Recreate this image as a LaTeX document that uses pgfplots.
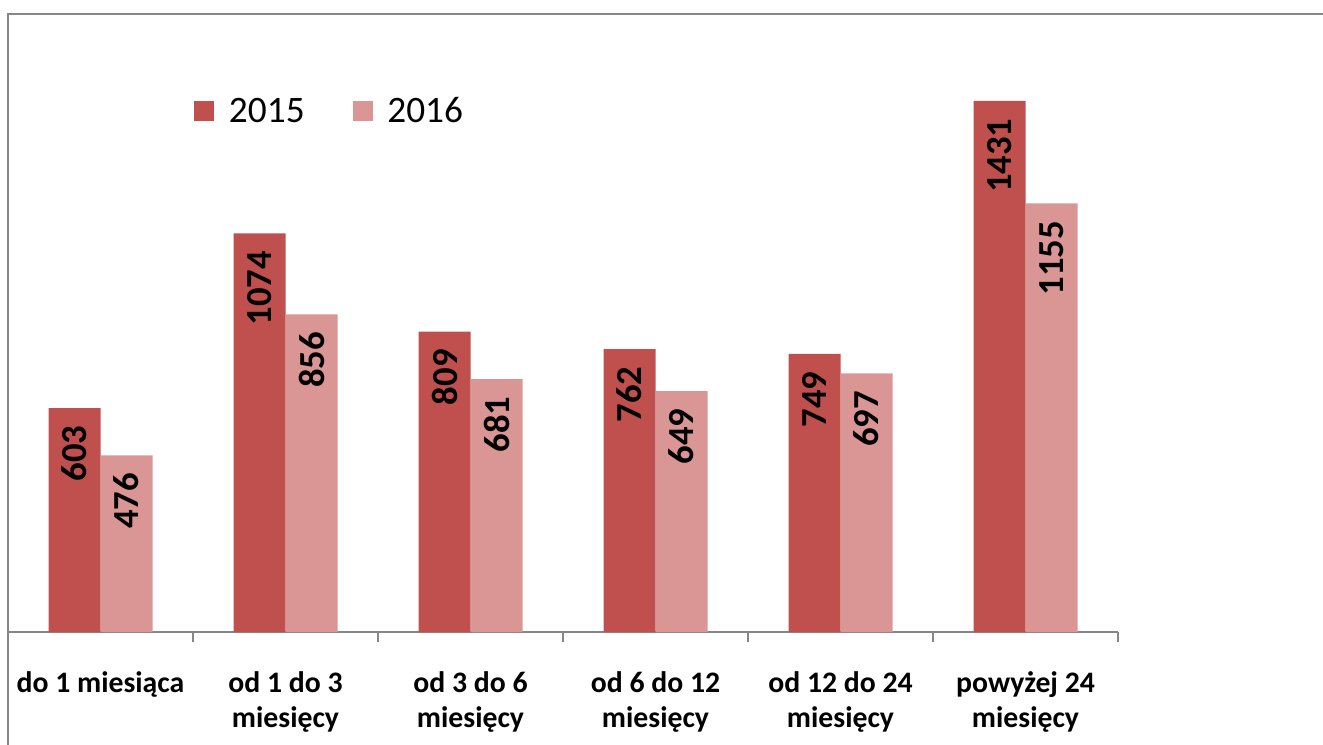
\documentclass[border=0pt]{standalone}
\usepackage{pgfplots}
\pgfplotsset{compat=1.18}
\usepackage{fontspec}
\setmainfont{Carlito}
\definecolor{c15}{RGB}{192,80,77}
\definecolor{c16}{RGB}{217,150,148}
\definecolor{axgray}{RGB}{134,134,134}
\begin{document}
\begin{tikzpicture}
\useasboundingbox (0,0) rectangle (992.25pt,558pt);
\draw[axgray, line width=1.5pt] (6pt,-2pt) -- (6pt,547.5pt) -- (1000pt,547.5pt);
\begin{axis}[
 at={(6pt,84pt)}, anchor=south west, scale only axis,
 width=832.5pt, height=463.5pt,
 xmin=-0.5, xmax=5.5, ymin=0, ymax=1665,
 ybar=0pt, bar width=39pt,
 axis x line=bottom, axis y line=none,
 axis line style={axgray, line width=1.2pt, -},
 xtick={0,...,5},
 xticklabels={do 1 miesiąca, {od 1 do 3\\miesięcy}, {od 3 do 6\\miesięcy}, {od 6 do 12\\miesięcy}, {od 12 do 24\\miesięcy}, {powyżej 24\\miesięcy}},
 major tick length=0pt,
 minor xtick={-0.5,0.5,...,5.5},
 minor tick length=7.5pt,
 tick align=outside,
 minor tick style={axgray, line width=1.2pt},
 xticklabel style={font=\bfseries\fontsize{22.3}{26}\selectfont, align=center, anchor=north, yshift=-26.5pt},
 nodes near coords={\pgfmathprintnumber[assume math mode=true, 1000 sep={}]{\pgfplotspointmeta}},
 every node near coord/.append style={rotate=90, anchor=east, font=\bfseries\fontsize{27.5}{32}\selectfont, inner xsep=13pt, text=black},
 legend columns=2,
 legend style={draw=none, fill=none, at={(0.164,0.874)}, anchor=north west, font=\fontsize{28}{34}\selectfont,
   /tikz/every odd column/.append style={column sep=9pt},
   /tikz/every even column/.append style={column sep=34pt}},
 legend image code/.code={\fill[#1] (0pt,-7.5pt) rectangle (15pt,7.5pt);},
]
\addplot[fill=c15, draw=none] coordinates {(0,603) (1,1074) (2,809) (3,762) (4,749) (5,1431)};
\addplot[fill=c16, draw=none] coordinates {(0,476) (1,856) (2,681) (3,649) (4,697) (5,1155)};
\legend{2015, 2016}
\end{axis}
\end{tikzpicture}
\end{document}
